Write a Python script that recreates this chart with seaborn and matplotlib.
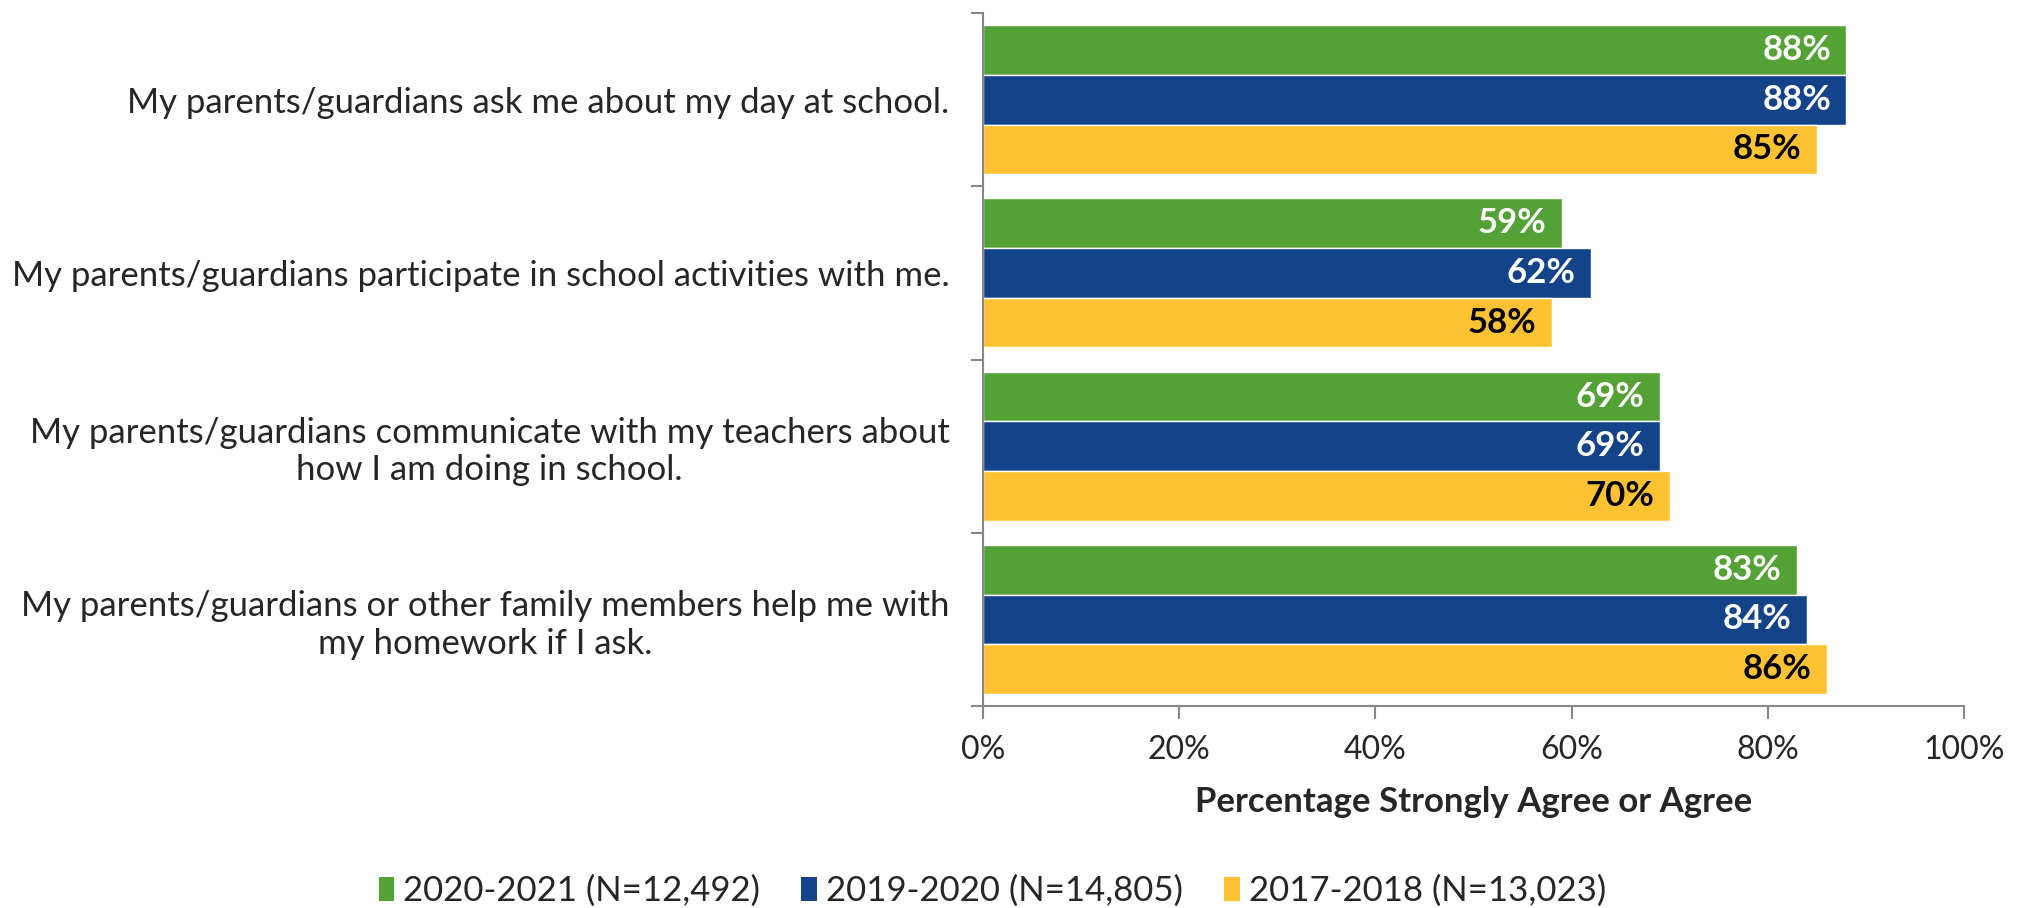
import numpy as np
import pandas as pd
import matplotlib.pyplot as plt
import seaborn as sns
from matplotlib.ticker import FixedLocator, PercentFormatter
from matplotlib.patches import Patch

sns.set_style("white")
plt.rcParams["font.family"] = ["Lato", "DejaVu Sans"]

# ---- data ----
questions = [
    "My parents/guardians ask me about my day at school.",
    "My parents/guardians participate in school activities with me.",
    "My parents/guardians communicate with my teachers about\nhow I am doing in school.",
    "My parents/guardians or other family members help me with\nmy homework if I ask.",
]
years = ["2020-2021 (N=12,492)", "2019-2020 (N=14,805)", "2017-2018 (N=13,023)"]
pct_2021 = [88, 59, 69, 83]
pct_2020 = [88, 62, 69, 84]
pct_2018 = [85, 58, 70, 86]

colors = ["#54A235", "#134389", "#FFC232"]
text_colors = ["white", "white", "black"]

df = pd.DataFrame({
    "question": questions * 3,
    "year": np.repeat(years, len(questions)),
    "pct": pct_2021 + pct_2020 + pct_2018,
})

fig = plt.figure(figsize=(20.25, 9.08), dpi=100)
ax = fig.add_axes([0.4854, 0.2225, 0.4845, 0.763])

sns.barplot(data=df, y="question", x="pct", hue="year", orient="h",
            palette=colors, saturation=1, width=0.86, gap=0,
            errorbar=None, legend=False, ax=ax)

# data labels inside bar ends
for cont, tc in zip(ax.containers, text_colors):
    for bar in cont:
        w = bar.get_width()
        ax.annotate(f"{w:.0f}%", (w, bar.get_y() + bar.get_height() / 2),
                    xytext=(-11, 0), textcoords="offset points",
                    ha="right", va="center", color=tc,
                    fontsize=25, fontweight="bold")

ax.set_xlim(0, 100)
ax.set_ylim(3.5, -0.5)
ax.xaxis.set_major_locator(FixedLocator([0, 20, 40, 60, 80, 100]))
ax.xaxis.set_major_formatter(PercentFormatter(decimals=0))
ax.tick_params(axis="x", bottom=True, labelsize=23, length=9, width=1.5,
               color="#888888", pad=12, direction="out")

# category labels on minor ticks, tick marks on boundaries
ax.yaxis.set_major_locator(FixedLocator([-0.5, 0.5, 1.5, 2.5, 3.5]))
ax.set_yticklabels([""] * 5)
ax.yaxis.set_minor_locator(FixedLocator(range(len(questions))))
ax.set_yticklabels(questions, minor=True, multialignment="center")
ax.tick_params(axis="y", which="major", left=True, length=9, width=1.5,
               color="#888888", direction="out")
ax.tick_params(axis="y", which="minor", left=True, length=0, labelsize=25, pad=24)

ax.set_ylabel("")
ax.set_xlabel("Percentage Strongly Agree or Agree", fontsize=25,
              fontweight="bold", labelpad=15)

for side in ["top", "right"]:
    ax.spines[side].set_visible(False)
for side in ["left", "bottom"]:
    ax.spines[side].set_color("#888888")
    ax.spines[side].set_linewidth(1.5)

handles = [Patch(facecolor=c, edgecolor="none") for c in colors]
fig.legend(handles, years, loc="center", bbox_to_anchor=(0.49, 0.019),
           ncol=3, frameon=False, fontsize=25, handlelength=0.45,
           handleheight=0.7, handletextpad=0.25, columnspacing=1.2)

fig.savefig("out.png", dpi=100)
